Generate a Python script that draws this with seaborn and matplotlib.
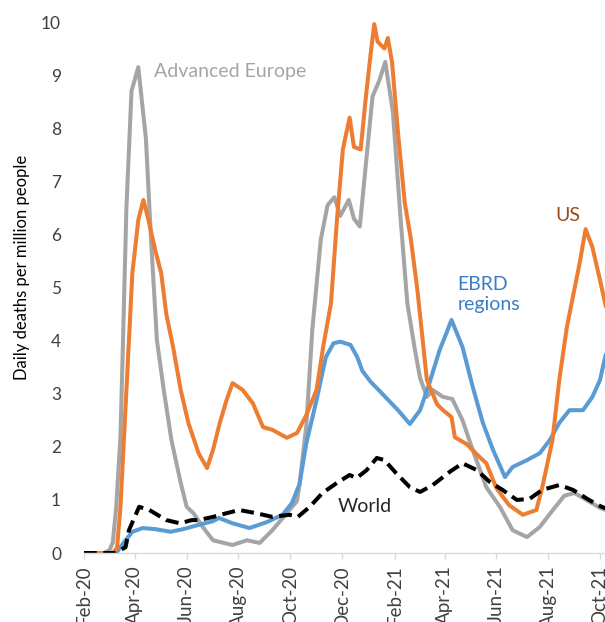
import pandas as pd
import matplotlib.pyplot as plt
import matplotlib.dates as mdates
import seaborn as sns

# ── DATA ─────────────────────────────────────────────────
europe_dates = ["2020-02-01", "2020-02-24", "2020-03-02", "2020-03-06", "2020-03-10",
                "2020-03-15", "2020-03-18", "2020-03-22", "2020-03-28", "2020-04-05",
                "2020-04-14", "2020-04-20", "2020-04-27", "2020-05-05", "2020-05-14",
                "2020-05-25", "2020-06-01", "2020-06-09", "2020-06-20", "2020-07-02",
                "2020-07-25", "2020-08-11", "2020-08-26", "2020-09-10", "2020-09-27",
                "2020-10-09", "2020-10-12", "2020-10-20", "2020-10-27", "2020-11-06",
                "2020-11-14", "2020-11-22", "2020-11-29", "2020-12-09", "2020-12-15",
                "2020-12-22", "2020-12-29", "2021-01-06", "2021-01-14", "2021-01-21",
                "2021-01-30", "2021-02-08", "2021-02-16", "2021-02-25", "2021-03-03",
                "2021-03-11", "2021-03-18", "2021-03-30", "2021-04-10", "2021-04-22",
                "2021-05-04", "2021-05-20", "2021-06-05", "2021-06-20", "2021-07-07",
                "2021-07-22", "2021-08-06", "2021-08-20", "2021-09-01", "2021-09-15",
                "2021-10-01", "2021-10-13"]
europe_vals = [0, 0, 0.05, 0.2, 0.87, 2.2, 4.0, 6.5, 8.7, 9.15,
               7.8, 5.9, 4.0, 3.07, 2.13, 1.32, 0.87, 0.75, 0.49, 0.24,
               0.15, 0.24, 0.19, 0.43, 0.75, 0.98, 1.3, 2.4, 4.2, 5.9,
               6.55, 6.7, 6.35, 6.65, 6.3, 6.15, 7.3, 8.6, 8.9, 9.25,
               8.3, 6.3, 4.7, 3.82, 3.3, 2.94, 3.07, 2.94, 2.9, 2.5,
               1.94, 1.24, 0.87, 0.43, 0.3, 0.49, 0.8, 1.08, 1.13, 1.0,
               0.85, 0.78]

us_dates = ["2020-02-01", "2020-03-06", "2020-03-11", "2020-03-15", "2020-03-21",
            "2020-03-29", "2020-04-05", "2020-04-11", "2020-04-17", "2020-04-25",
            "2020-05-02", "2020-05-08", "2020-05-16", "2020-05-25", "2020-06-03",
            "2020-06-15", "2020-06-25", "2020-07-02", "2020-07-10", "2020-07-18",
            "2020-07-25", "2020-08-06", "2020-08-18", "2020-08-30", "2020-09-10",
            "2020-09-27", "2020-10-09", "2020-10-20", "2020-11-01", "2020-11-09",
            "2020-11-18", "2020-11-25", "2020-12-02", "2020-12-10", "2020-12-15",
            "2020-12-23", "2020-12-29", "2021-01-04", "2021-01-08", "2021-01-12",
            "2021-01-20", "2021-01-24", "2021-01-29", "2021-02-05", "2021-02-13",
            "2021-02-20", "2021-02-28", "2021-03-11", "2021-03-23", "2021-03-30",
            "2021-04-09", "2021-04-13", "2021-04-27", "2021-05-12", "2021-05-20",
            "2021-06-01", "2021-06-16", "2021-07-02", "2021-07-18", "2021-07-25",
            "2021-08-06", "2021-08-14", "2021-08-23", "2021-08-30", "2021-09-07",
            "2021-09-14", "2021-09-22", "2021-10-01", "2021-10-07", "2021-10-15"]
us_vals = [0, 0, 0.1, 0.87, 2.75, 5.27, 6.27, 6.65, 6.27, 5.7,
           5.27, 4.5, 3.88, 3.07, 2.45, 1.88, 1.6, 1.94, 2.45, 2.88,
           3.2, 3.07, 2.82, 2.37, 2.32, 2.17, 2.26, 2.6, 3.07, 3.9,
           4.7, 6.26, 7.6, 8.2, 7.65, 7.6, 8.57, 9.43, 9.96, 9.63,
           9.5, 9.7, 9.24, 7.91, 6.59, 5.93, 4.93, 3.26, 2.8, 2.69,
           2.56, 2.18, 2.05, 1.81, 1.69, 1.22, 0.9, 0.72, 0.81, 1.24,
           2.13, 3.26, 4.26, 4.82, 5.46, 6.1, 5.76, 5.14, 4.7, 4.2]

ebrd_dates = ["2020-02-01", "2020-03-10", "2020-03-19", "2020-03-29", "2020-04-10",
              "2020-04-25", "2020-05-13", "2020-05-28", "2020-06-15", "2020-07-02",
              "2020-07-09", "2020-07-25", "2020-08-14", "2020-09-03", "2020-09-22",
              "2020-10-03", "2020-10-12", "2020-10-20", "2020-11-01", "2020-11-12",
              "2020-11-21", "2020-11-29", "2020-12-11", "2020-12-19", "2020-12-25",
              "2021-01-04", "2021-01-12", "2021-01-24", "2021-02-05", "2021-02-19",
              "2021-03-03", "2021-03-14", "2021-03-26", "2021-04-03", "2021-04-09",
              "2021-04-22", "2021-05-04", "2021-05-16", "2021-05-28", "2021-06-11",
              "2021-06-20", "2021-07-07", "2021-07-22", "2021-08-03", "2021-08-14",
              "2021-08-26", "2021-09-11", "2021-09-22", "2021-10-01", "2021-10-07",
              "2021-10-15"]
ebrd_vals = [0, 0, 0.2, 0.4, 0.47, 0.45, 0.4, 0.45, 0.53, 0.6,
             0.66, 0.56, 0.47, 0.58, 0.72, 0.94, 1.3, 2.07, 2.88, 3.69,
             3.95, 3.98, 3.92, 3.69, 3.43, 3.22, 3.09, 2.89, 2.69, 2.43,
             2.69, 3.2, 3.82, 4.14, 4.39, 3.88, 3.13, 2.45, 1.94, 1.43,
             1.62, 1.75, 1.88, 2.13, 2.45, 2.69, 2.69, 2.94, 3.26, 3.69,
             4.1]

world_dates = ["2020-02-01", "2020-03-09", "2020-03-21", "2020-03-25", "2020-04-06",
               "2020-04-18", "2020-05-08", "2020-05-24", "2020-06-07", "2020-06-15",
               "2020-07-02", "2020-07-18", "2020-08-02", "2020-08-22", "2020-09-10",
               "2020-09-30", "2020-10-10", "2020-10-24", "2020-11-08", "2020-11-25",
               "2020-12-10", "2020-12-18", "2020-12-30", "2021-01-11", "2021-01-20",
               "2021-02-03", "2021-02-19", "2021-03-03", "2021-03-18", "2021-04-07",
               "2021-04-22", "2021-05-09", "2021-05-24", "2021-06-08", "2021-06-25",
               "2021-07-10", "2021-07-25", "2021-08-14", "2021-08-30", "2021-09-18",
               "2021-10-03", "2021-10-15"]
world_vals = [0, 0, 0.11, 0.43, 0.87, 0.81, 0.62, 0.56, 0.62, 0.62,
              0.68, 0.75, 0.81, 0.75, 0.68, 0.72, 0.68, 0.87, 1.13, 1.32,
              1.47, 1.41, 1.56, 1.79, 1.75, 1.5, 1.24, 1.15, 1.28, 1.53,
              1.69, 1.56, 1.34, 1.19, 1.0, 1.02, 1.19, 1.28, 1.19, 1.0,
              0.87, 0.8]

y_ticks = list(range(0, 11))

# ── STYLE ────────────────────────────────────────────────
sns.set_theme(style="white")
plt.rcParams["font.family"] = ["Lato", "DejaVu Sans"]

fig = plt.figure(figsize=(6.05, 6.22), dpi=100)
# the original is cropped on the right, so the axes run past the figure edge
ax = fig.add_axes([0.1388, 0.1109, 0.8726, 0.8537])

series = [
    ("Advanced Europe", europe_dates, europe_vals, "#A5A5A5", "-"),
    ("EBRD regions", ebrd_dates, ebrd_vals, "#5B9BD5", "-"),
    ("US", us_dates, us_vals, "#ED7D31", "-"),
    ("World", world_dates, world_vals, "black", (0, (3.2, 1.6))),
]
for name, d, v, col, ls in series:
    df = pd.DataFrame({"date": pd.to_datetime(d), "value": v})
    sns.lineplot(data=df, x="date", y="value", ax=ax, color=col,
                 linewidth=2.9, linestyle=ls, label=None)

ax.set_xlim(pd.Timestamp("2020-02-01"), pd.Timestamp("2021-10-15"))
ax.set_ylim(0, 10)
ax.set_yticks(y_ticks)

ax.xaxis.set_major_locator(mdates.MonthLocator(bymonth=[2, 4, 6, 8, 10, 12]))
ax.xaxis.set_major_formatter(mdates.DateFormatter("%b-%y"))
for lbl in ax.get_xticklabels():
    lbl.set_rotation(90)
    lbl.set_ha("center")
    lbl.set_va("top")

for side in ["left", "right", "top"]:
    ax.spines[side].set_visible(False)
ax.spines["bottom"].set_color("#D9D9D9")
ax.spines["bottom"].set_linewidth(1.0)

ax.tick_params(axis="x", bottom=True, length=4, width=1, color="#D9D9D9",
               pad=5, labelsize=13.5, labelcolor="#404040")
ax.tick_params(axis="y", left=False, pad=10.5, labelsize=12.5, labelcolor="#404040")

ax.set_xlabel("")
ax.set_ylabel("Daily deaths per million people", fontsize=12, color="black")
ax.yaxis.set_label_coords(-0.117, 0.537)
ax.yaxis.label.set_va("center")

# ── SERIES LABELS ────────────────────────────────────────
ax.text(pd.Timestamp("2020-04-24"), 9.06, "Advanced Europe", color="#A5A5A5",
        fontsize=14, ha="left", va="center")
ax.text(pd.Timestamp("2021-08-24"), 6.35, "US", color="#9C4A1A",
        fontsize=14, ha="center", va="center")
ax.text(pd.Timestamp("2021-04-16"), 4.87, "EBRD\nregions", color="#3A7DC0",
        fontsize=14, ha="left", va="center", linespacing=1.25)
ax.text(pd.Timestamp("2020-11-26"), 0.87, "World", color="#262626",
        fontsize=14, ha="left", va="center")

if ax.get_legend() is not None:
    ax.get_legend().remove()

fig.savefig("out.png", dpi=100)
plt.close()
